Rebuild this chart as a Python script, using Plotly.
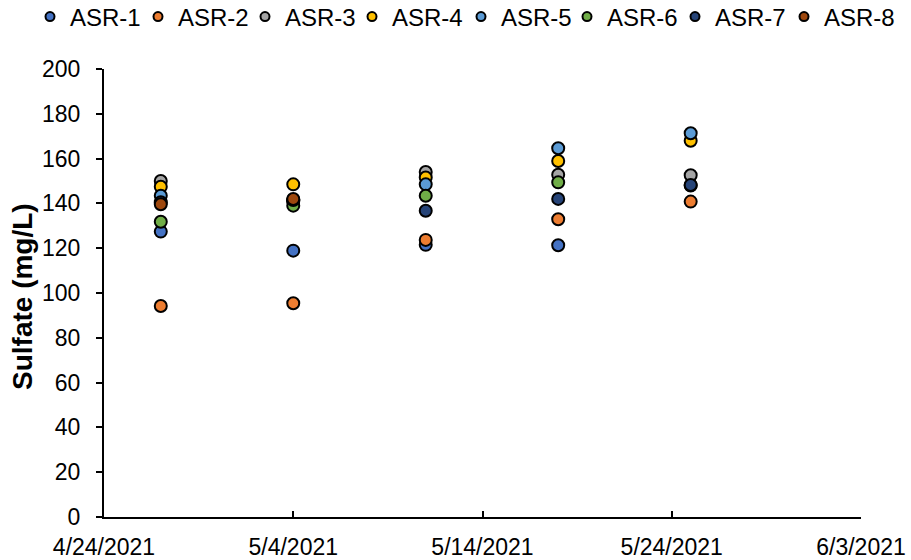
import plotly.graph_objects as go

# Sampling dates and sulfate concentrations (mg/L) per well
dates = ["2021-04-27", "2021-05-04", "2021-05-11", "2021-05-18", "2021-05-25"]
series_names = ["ASR-1", "ASR-2", "ASR-3", "ASR-4", "ASR-5", "ASR-6", "ASR-7", "ASR-8"]
asr1 = [127.4, 118.9, 121.5, 121.3, 148.0]
asr2 = [94.2, 95.4, 123.7, 132.9, 140.8]
asr3 = [150.0, 141.0, 154.0, 152.8, 152.6]
asr4 = [147.4, 148.5, 151.6, 158.9, 168.0]
asr5 = [143.4, 141.5, 148.5, 164.6, 171.3]
asr6 = [131.8, 139.0, 143.4, 149.4, None]
asr7 = [140.5, 141.5, 136.7, 142.0, 148.2]
asr8 = [139.6, 142.0, None, None, None]
values = [asr1, asr2, asr3, asr4, asr5, asr6, asr7, asr8]
colors = ["#4472C4", "#ED7D31", "#A5A5A5", "#FFC000",
          "#5B9BD5", "#70AD47", "#264478", "#9E480E"]

FONT = "Liberation Sans, Arial, sans-serif"
W, H = 911, 560
ML, MR, MT, MB = 104, 50, 69, 43
# left edge (px) of each legend entry along the top row
legend_left = [30, 138, 245, 352, 461, 567, 675, 784]

fig = go.Figure()
legend_layouts = {}
for i, (name, vals, col) in enumerate(zip(series_names, values, colors)):
    lg = "legend" if i == 0 else f"legend{i + 1}"
    # data markers
    fig.add_trace(go.Scatter(
        x=dates, y=vals, mode="markers", name=name,
        legendgroup=name, showlegend=False,
        marker=dict(size=12, color=col, line=dict(color="black", width=2)),
    ))
    # smaller symbol for the legend entry (one legend box per series, all in one row)
    fig.add_trace(go.Scatter(
        x=[None], y=[None], mode="markers", name=name,
        legendgroup=name, showlegend=True, legend=lg,
        marker=dict(size=9, color=col, line=dict(color="black", width=2)),
    ))
    legend_layouts[lg] = dict(
        orientation="h", xref="container", yref="container",
        x=legend_left[i] / W, xanchor="left",
        y=1 - 17 / H, yanchor="middle",
        font=dict(family=FONT, size=24, color="#000000"),
        itemsizing="trace", bgcolor="rgba(0,0,0,0)",
    )

fig.update_layout(
    width=W, height=H,
    paper_bgcolor="white", plot_bgcolor="white",
    margin=dict(l=ML, r=MR, t=MT, b=MB, autoexpand=False),
    font=dict(family=FONT, size=23, color="#000000"),
    showlegend=True,
    annotations=[dict(
        text="<b>Sulfate (mg/L)</b>", textangle=-90,
        xref="paper", yref="paper",
        x=(22 - ML) / (W - ML - MR), y=(H - MB - 297) / (H - MT - MB),
        xanchor="center", yanchor="middle", showarrow=False,
        font=dict(family=FONT, size=28, color="#000000"),
    )],
    **legend_layouts,
)

fig.update_xaxes(
    type="date", range=["2021-04-24", "2021-06-03"],
    tick0="2021-04-24", dtick=10 * 24 * 3600 * 1000,
    tickformat="%-m/%-d/%Y",
    showgrid=False, zeroline=False,
    showline=True, linecolor="black", linewidth=2,
    ticks="inside", ticklen=6, tickwidth=2, tickcolor="black",
    ticklabelstandoff=8,
    tickfont=dict(family=FONT, size=23, color="#000000"),
)
fig.update_yaxes(
    range=[0, 200], dtick=20,
    showgrid=False, zeroline=False,
    showline=True, linecolor="black", linewidth=2,
    ticks="outside", ticklen=6, tickwidth=2, tickcolor="black",
    ticksuffix="\u00a0\u2009",
    tickfont=dict(family=FONT, size=23, color="#000000"),
)

fig.write_html("out.html")
